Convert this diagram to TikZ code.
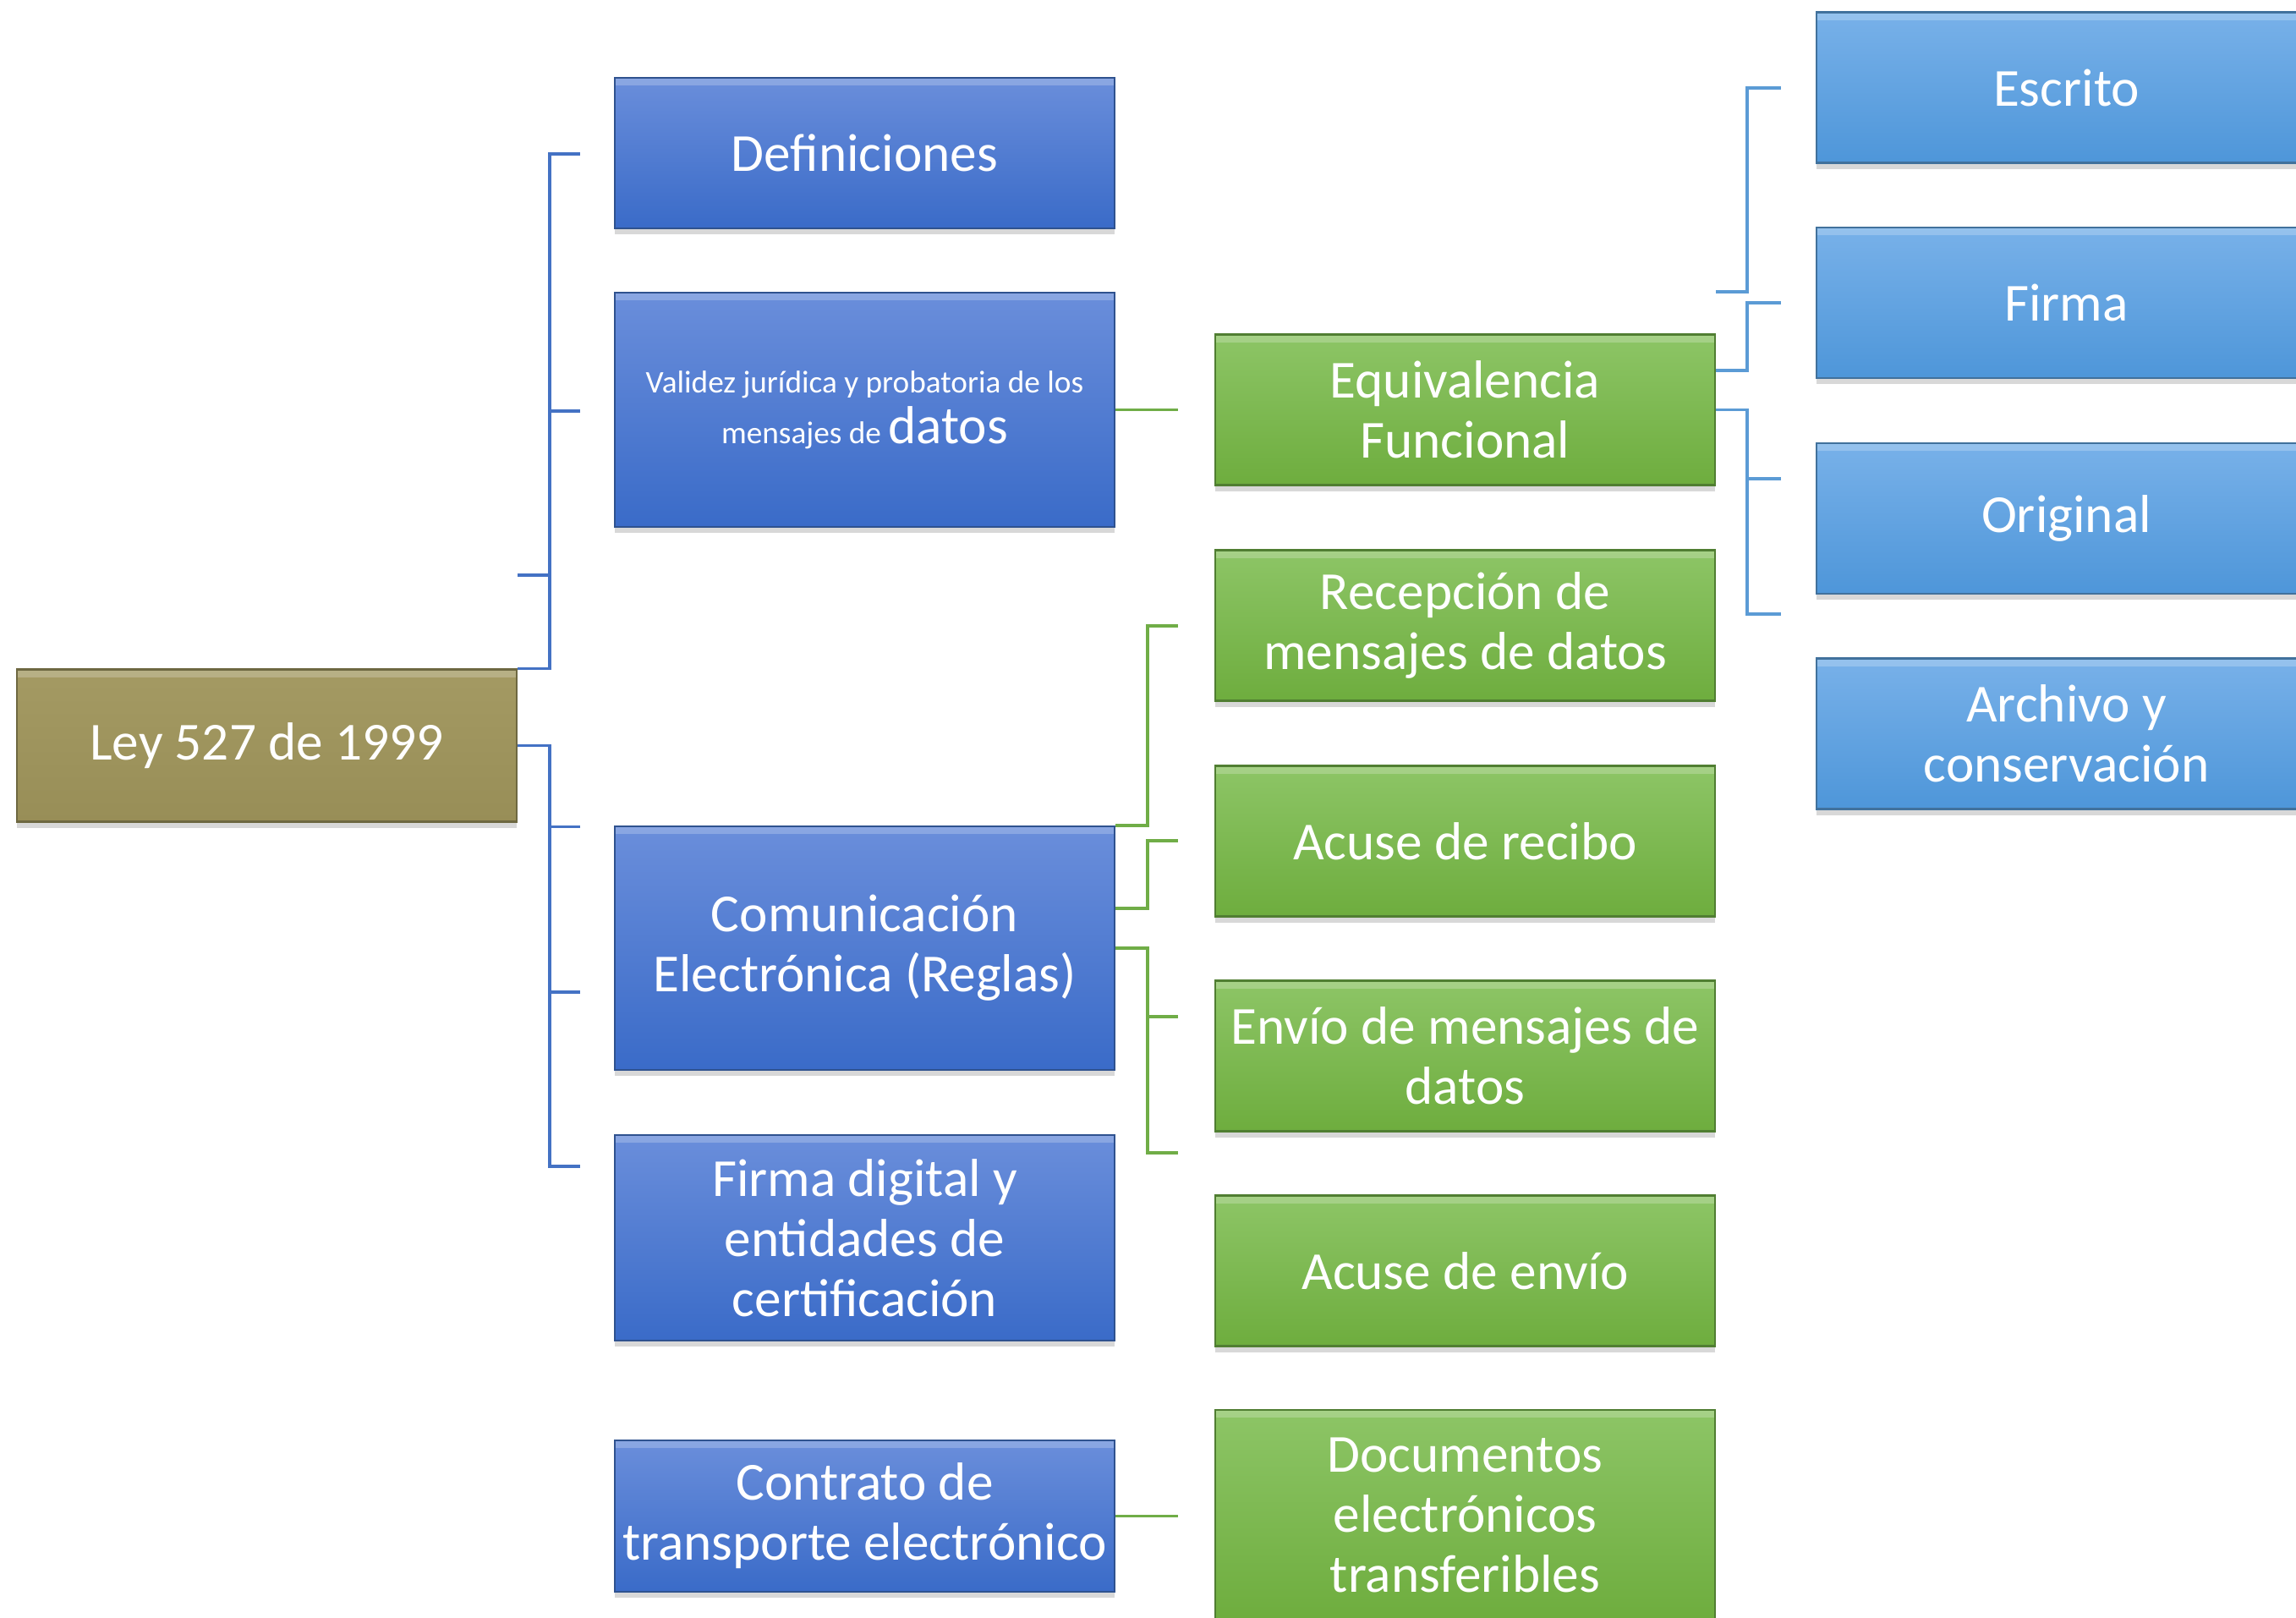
\documentclass[tikz,border=0pt]{standalone}
\usepackage{fontspec}
\setmainfont{Carlito}
\usetikzlibrary{shadows}

\definecolor{leytop}{HTML}{A49A63}
\definecolor{leybot}{HTML}{988E57}
\definecolor{leyedge}{HTML}{6E6841}
\definecolor{bluetop}{HTML}{6A8EDB}
\definecolor{bluebot}{HTML}{3A6BC8}
\definecolor{blueedge}{HTML}{2F528F}
\definecolor{greentop}{HTML}{8DC566}
\definecolor{greenbot}{HTML}{6EAD3E}
\definecolor{greenedge}{HTML}{507E32}
\definecolor{skytop}{HTML}{78B1E9}
\definecolor{skybot}{HTML}{4E96D9}
\definecolor{skyedge}{HTML}{41719C}
\definecolor{linkblue}{HTML}{4472C4}
\definecolor{linkgreen}{HTML}{70AD47}
\definecolor{linksky}{HTML}{5B9BD5}

\begin{document}
\begin{tikzpicture}[
  box/.style={rectangle, minimum width=5.91cm, minimum height=1.78cm, inner sep=1pt,
    align=center, text=white, font=\fontsize{18}{20.2}\selectfont, line width=0.6pt,
    drop shadow={shadow xshift=0pt, shadow yshift=-0.07cm, opacity=0.3},
    path picture={\fill[white, opacity=0.22] (path picture bounding box.north west)
      rectangle ([yshift=-0.09cm]path picture bounding box.north east);}},
  leybox/.style={box, top color=leytop, bottom color=leybot, draw=leyedge},
  bluebox/.style={box, top color=bluetop, bottom color=bluebot, draw=blueedge},
  greenbox/.style={box, top color=greentop, bottom color=greenbot, draw=greenedge},
  skybox/.style={box, top color=skytop, bottom color=skybot, draw=skyedge},
  bluelink/.style={draw=linkblue, line width=0.9pt},
  greenlink/.style={draw=linkgreen, line width=0.9pt},
  skylink/.style={draw=linksky, line width=0.9pt}
]
  \clip (0,0) rectangle (27.15,-19.13);
  \fill[white] (0,0) rectangle (27.15,-19.13);

  % root
  \node[leybox, minimum height=1.80cm] (ley) at (3.155,-8.815) {Ley 527 de 1999};

  % first level
  \node[bluebox] (defi) at (10.225,-1.81) {Definiciones};
  \node[bluebox, minimum height=2.77cm] (valid) at (10.225,-4.845)
    {\fontsize{10.6}{12}\selectfont Validez jurídica y probatoria de los\\[-3pt]
     \fontsize{10.6}{12}\selectfont mensajes de {\fontsize{18}{20}\selectfont datos}};
  \node[bluebox, minimum height=2.88cm] (comu) at (10.225,-11.21)
    {Comunicación\\Electrónica (Reglas)};
  \node[bluebox, minimum height=2.43cm] (firmad) at (10.225,-14.635)
    {Firma digital y\\entidades de\\certificación};
  \node[bluebox, minimum height=1.79cm] (contrato) at (10.225,-17.925)
    {Contrato de\\transporte electrónico};

  % second level
  \node[greenbox] (equiv) at (17.325,-4.845) {Equivalencia\\Funcional};
  \node[greenbox] (recep) at (17.325,-7.395) {Recepción de\\mensajes de datos};
  \node[greenbox] (acuser) at (17.325,-9.945) {Acuse de recibo};
  \node[greenbox] (envio) at (17.325,-12.485) {Envío de mensajes de\\datos};
  \node[greenbox] (acusee) at (17.325,-15.025) {Acuse de envío};
  \node[greenbox, minimum height=2.48cm] (docs) at (17.325,-17.91)
    {Documentos\\electrónicos\\transferibles};

  % third level
  \node[skybox] (escrito) at (24.435,-1.035) {Escrito};
  \node[skybox] (firma) at (24.435,-3.58) {Firma};
  \node[skybox] (orig) at (24.435,-6.13) {Original};
  \node[skybox] (archivo) at (24.435,-8.675) {Archivo y\\conservación};

  % free ends of the brackets
  \coordinate (defi-in) at (6.86,-1.82);
  \coordinate (valid-in) at (6.86,-4.86);
  \coordinate (stub1) at (6.12,-6.80);
  \coordinate (comu-in1) at (6.86,-9.775);
  \coordinate (comu-in2) at (6.86,-11.73);
  \coordinate (firmad-in) at (6.86,-13.79);
  \coordinate (equiv-in) at (13.93,-4.845);
  \coordinate (recep-in) at (13.93,-7.40);
  \coordinate (acuser-in) at (13.93,-9.94);
  \coordinate (envio-in) at (13.93,-12.02);
  \coordinate (envio-end) at (13.93,-13.63);
  \coordinate (docs-in) at (13.93,-17.925);
  \coordinate (stub2) at (20.29,-3.45);
  \coordinate (escrito-in) at (21.06,-1.04);
  \coordinate (firma-in) at (21.06,-3.58);
  \coordinate (orig-in) at (21.06,-5.66);
  \coordinate (orig-end) at (21.06,-7.26);

  % blue brackets
  \draw[bluelink] (ley.north east) -- ++(0.38,0) |- (defi-in);
  \draw[bluelink] (valid-in) -- ++(-0.37,0);
  \draw[bluelink] (stub1) -- ++(0.37,0);
  \draw[bluelink] (ley.east) -- ++(0.38,0) |- (firmad-in);
  \draw[bluelink] (comu-in1) -- ++(-0.37,0);
  \draw[bluelink] (comu-in2) -- ++(-0.37,0);

  % green brackets
  \draw[greenlink] (valid.east) -- (equiv-in);
  \draw[greenlink] (comu.north east) -- ++(0.38,0) |- (recep-in);
  \draw[greenlink] ([yshift=0.47cm]comu.east) -- ++(0.38,0) |- (acuser-in);
  \draw[greenlink] (comu.east) -- ++(0.38,0) |- (envio-end);
  \draw[greenlink] (envio-in) -- ++(-0.37,0);
  \draw[greenlink] (contrato.east) -- (docs-in);

  % light blue brackets
  \draw[skylink] (stub2) -- ++(0.37,0) |- (escrito-in);
  \draw[skylink] ([yshift=0.465cm]equiv.east) -- ++(0.37,0) |- (firma-in);
  \draw[skylink] (equiv.east) -- ++(0.37,0) |- (orig-end);
  \draw[skylink] (orig-in) -- ++(-0.40,0);
\end{tikzpicture}
\end{document}
